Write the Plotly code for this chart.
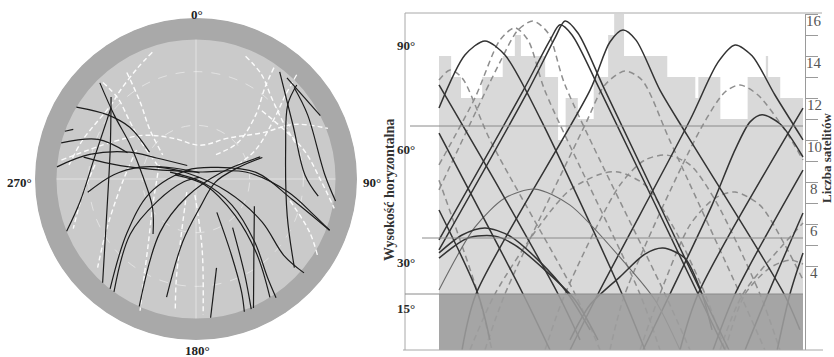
import plotly.graph_objects as go

# ---------------- sky plot data: azimuth [deg], elevation [deg] ----------------
sky_mask_elev = 12
sky_grid_zenith = [30, 60]
sky_dir_vals = [0, 90, 180, 270]
sky_dir_text = ["<b>0°</b>", "<b>90°</b>", "<b>180°</b>", "<b>270°</b>"]
sky_dir_label_px = [(197, 15), (372, 182), (197, 350), (19, 183)]

sky_solid_az = [
    [315, 308, 297, 274, 237, 218],
    [314, 290, 256, 222],
    [310, 282, 259, 248],
    [301, 306, 308, 300],
    [290, 292],
    [285, 292, 291],
    [275, 283, 292, 298, 327],
    [263, 273, 282, 296, 30],
    [218, 232, 253, 315, 60, 84, 102, 111],
    [204, 214, 207, 76, 71],
    [216, 230, 240, 257, 63],
    [194, 192, 172, 99, 75, 72],
    [281, 280, 352, 82, 98, 107, 111],
    [287, 304, 112, 123, 131, 131],
    [285, 117, 126, 137, 144, 146],
    [281, 124, 133, 141, 148],
    [148, 155, 158, 160],
    [143, 153, 157],
    [115, 144, 156],
    [167, 174],
    [38, 61, 88, 98],
    [47, 60, 88, 99],
    [42, 63],
    [47, 51, 71, 112, 132],
]
sky_solid_el = [
    [14, 32, 49, 60, 61, 51],
    [24, 39, 39, 12],
    [28, 32, 24, 12],
    [12, 29, 43, 60],
    [12, 16],
    [12, 31, 49],
    [12, 29, 50, 65, 81],
    [29, 44, 58, 76, 86],
    [12, 41, 63, 83, 77, 56, 35, 10],
    [12, 54, 79, 76, 52],
    [12, 42, 65, 83, 88],
    [22, 54, 74, 79, 66, 51],
    [26, 47, 86, 62, 38, 21, 10],
    [67, 84, 71, 46, 25, 10],
    [75, 86, 65, 42, 22, 10],
    [78, 84, 60, 36, 12],
    [68, 43, 22, 11],
    [56, 30, 11],
    [54, 35, 11],
    [39, 12],
    [14, 28, 29, 21],
    [15, 18, 18, 11],
    [14, 12],
    [13, 24, 37, 35, 16],
]
sky_dash_az = [
    [316, 316, 311, 304, 290],
    [341, 332, 319, 311, 289, 275],
    [278, 294, 310, 331, 7, 38, 55, 61, 69],
    [296, 268, 241, 228],
    [278, 262, 248],
    [291, 242, 215, 206, 203],
    [215, 194, 191, 189],
    [22, 32, 43, 59, 73],
    [35, 37, 43, 49, 38],
    [44, 47, 52, 64, 75],
    [44, 74, 91, 102],
    [184, 175, 177],
    [327, 324, 317, 306],
    [103, 115, 122],
]
sky_dash_el = [
    [15, 27, 41, 53, 67],
    [15, 20, 25, 27, 23, 18],
    [14, 39, 52, 64, 71, 61, 45, 27, 11],
    [53, 49, 33, 16],
    [33, 26, 16],
    [68, 63, 43, 22, 10],
    [81, 54, 32, 16],
    [16, 21, 28, 32, 30],
    [14, 26, 41, 59, 73],
    [9, 22, 34, 53, 70],
    [37, 28, 20, 11],
    [81, 51, 14],
    [19, 37, 52, 67],
    [36, 20, 10],
]

# ---------------- elevation vs time data: time [h], elevation [deg] ----------------
elev_solid_t = [
    [0, 1.71, 3.03, 4.35, 6.66, 12.07, 13.58],
    [0, 5.54, 7.32, 7.98, 8.77, 10.62, 17.08, 18.86],
    [0, 5.87, 7.65, 8.31, 9.16, 10.94, 17.34, 19.12],
    [1.52, 2.44, 9.96, 11.27, 12.13, 12.99, 14.57, 16.35, 22.75, 23.8],
    [8.64, 10.48, 16.55, 18.40, 19.52, 20.64, 22.15, 24],
    [13.45, 15.23, 18.0, 19.52, 20.51, 21.3, 22.48, 24],
    [0, 2.37, 4.35, 6.33, 8.64, 12.26, 14.24, 15.89],
    [0, 1.52, 3.03, 4.68, 6.66, 8.51, 9.96],
    [0, 1.91, 3.69, 5.01, 6.99, 8.97, 10.48],
    [8.64, 9.96, 11.93, 13.58, 14.77, 16.22, 17.34, 18.0],
    [0, 4.02, 7.85, 9.30],
    [0, 5.54, 7.32],
    [15.89, 17.08, 24],
    [18.07, 19.52, 24],
    [20.18, 21.69, 24],
    [22.3, 23.14, 24],
    [0, 2.57, 3.36],
]
elev_solid_el = [
    [64.8, 79.0, 82.8, 79.0, 62.1, 15.0, 0],
    [29.5, 69.4, 83.0, 87.1, 84.4, 69.6, 15.0, 0],
    [26.8, 69.4, 83.6, 88.1, 84.9, 69.6, 15.0, 0],
    [0, 15.0, 69.6, 82.5, 85.7, 83.0, 69.6, 57.6, 15.0, 5.4],
    [0, 15, 61.6, 77.1, 81.7, 78.8, 68.3, 56.3],
    [0, 15, 38.8, 53.6, 61.1, 63.0, 60.6, 51.7],
    [16.1, 32.9, 40.7, 43.1, 38.8, 23.3, 13.4, 0],
    [26.0, 30.8, 32.7, 30.5, 23.6, 15.0, 5.4],
    [24.6, 30.0, 30.5, 28.1, 21.4, 13.4, 2.7],
    [2.7, 12.1, 19.6, 25.7, 27.3, 24.6, 15.0, 5.4],
    [71.0, 42.9, 15.0, 2.7],
    [58.1, 15.0, 0],
    [0, 15, 64.8],
    [0, 15, 48.2],
    [0, 15, 36.7],
    [0, 15, 26.0],
    [37.5, 15, 2.7],
]
elev_solid_thin = [6]  # index of the thinner, lighter solid arc

elev_dash_t = [
    [0, 0.73, 1.52, 3.36, 8.97, 10.62],
    [0, 2.37, 4.02, 5.01, 5.87, 6.99, 13.25, 14.57],
    [0, 4.02, 5.21, 6.20, 7.19, 8.31, 14.90, 16.55],
    [3.03, 4.35, 9.63, 10.94, 12.26, 13.38, 15.23, 19.85, 21.49],
    [11.27, 12.26, 17.21, 18.86, 19.85, 21.03, 22.81, 24],
    [2.04, 3.69, 6.66, 8.64, 10.62, 11.80, 13.58, 15.56, 17.54, 18.86],
    [6.99, 8.31, 11.93, 13.58, 15.03, 16.55, 18.20, 21.16, 22.48],
    [13.25, 14.57, 16.55, 18.20, 19.52, 21.16, 22.81, 24],
    [18.86, 20.18, 21.82, 23.14, 24],
    [0, 2.57, 3.49],
    [18.53, 20.04, 24],
]
elev_dash_el = [
    [72.3, 75.0, 72.9, 56.3, 15.0, 0],
    [49.6, 67.5, 83.0, 86.3, 83.0, 69.4, 15.0, 0],
    [42.9, 77.1, 85.7, 88.1, 84.9, 71.0, 15.0, 0],
    [0, 15, 60.3, 71.0, 74.7, 72.3, 56.0, 15.0, 0],
    [0, 15, 58.9, 69.1, 71.0, 68.3, 58.9, 50.9],
    [0, 15, 33.5, 42.9, 47.1, 47.7, 44.2, 32.1, 15.0, 0],
    [0, 15, 44.2, 50.9, 52.2, 49.6, 40.2, 15, 0],
    [0, 15, 33.5, 40.7, 42.3, 38.8, 28.1, 18.8],
    [0, 15, 22.0, 24.1, 23.0],
    [45.5, 15, 0],
    [0, 15, 34.0],
]

count_t = [0, 0.8, 1.45, 2.85, 4.2, 5.0, 5.4, 7.0, 7.85, 8.35, 9.15, 10.2, 11.15,
           11.55, 12.2, 15.05, 16.9, 17.1, 18.55, 20.35, 21.55, 21.7, 22.5, 24]
count_n = [14, 13, 12, 13, 14, 15, 14, 13, 10, 12, 11, 13, 15,
           16, 14, 13, 12, 13, 11, 13, 14, 13, 12, 12]
count_tick_vals = list(range(4, 17))
count_label_vals = [4, 6, 8, 10, 12, 14, 16]

elev_mask = 15
elev_lines = [15, 30, 60]
elev_line_start_px = [405, 422, 410]
elev_label_text = ["<b>90°</b>", "<b>60°</b>", "<b>30°</b>", "<b>15°</b>"]
elev_label_px_y = [45, 150, 262, 308]
t_start, t_end = 0, 24

# ---------------- figure ----------------
W, H = 834, 357
SERIF = "Liberation Serif"
fig = go.Figure()

# sky plot background ring (below mask elevation)
fig.add_trace(go.Barpolar(
    r=[sky_mask_elev], base=[90 - sky_mask_elev], theta=[0], width=[360],
    marker=dict(color="#a9a9a9", line=dict(width=0)), subplot="polar",
    hoverinfo="skip", showlegend=False))

for az, el in zip(sky_dash_az, sky_dash_el):
    fig.add_trace(go.Scatterpolar(
        r=[90 - e for e in el], theta=az, mode="lines", subplot="polar",
        line=dict(color="rgba(255,255,255,0.92)", width=1.4, dash="5px,3px", shape="spline"),
        hoverinfo="skip", showlegend=False))
for az, el in zip(sky_solid_az, sky_solid_el):
    fig.add_trace(go.Scatterpolar(
        r=[90 - e for e in el], theta=az, mode="lines", subplot="polar",
        line=dict(color="#1c1c1c", width=1.2, shape="spline"),
        hoverinfo="skip", showlegend=False))

# satellite count histogram (count axis y)
fig.add_trace(go.Scatter(
    x=count_t, y=count_n, xaxis="x", yaxis="y", mode="lines",
    line=dict(width=0, shape="hv"), fill="tozeroy", fillcolor="#d9d9d9",
    hoverinfo="skip", showlegend=False))

# elevation tracks (elevation axis y2)
for tt, ee in zip(elev_dash_t, elev_dash_el):
    fig.add_trace(go.Scatter(
        x=tt, y=ee, xaxis="x", yaxis="y2", mode="lines",
        line=dict(color="#8e8e8e", width=1.5, dash="6px,4px", shape="spline", smoothing=0.8),
        hoverinfo="skip", showlegend=False))
for i, (tt, ee) in enumerate(zip(elev_solid_t, elev_solid_el)):
    thin = i in elev_solid_thin
    fig.add_trace(go.Scatter(
        x=tt, y=ee, xaxis="x", yaxis="y2", mode="lines",
        line=dict(color="#6a6a6a" if thin else "#333333", width=1.1 if thin else 1.5,
                  shape="spline", smoothing=0.8),
        hoverinfo="skip", showlegend=False))

px = lambda v: v / W
py = lambda v: (H - v) / H

shapes = [
    # low-elevation band
    dict(type="rect", xref="x", yref="y2", x0=t_start, x1=t_end, y0=0, y1=elev_mask,
         fillcolor="#9d9d9d", opacity=0.88, line=dict(width=0), layer="above"),
    # frame
    dict(type="line", xref="paper", yref="paper", x0=px(405), x1=px(822), y0=py(13), y1=py(13),
         line=dict(color="#a8a8a8", width=1), layer="above"),
    dict(type="line", xref="paper", yref="paper", x0=px(403), x1=px(823), y0=py(350), y1=py(350),
         line=dict(color="#a8a8a8", width=1), layer="above"),
    dict(type="line", xref="paper", yref="paper", x0=px(405), x1=px(405), y0=py(350), y1=py(13),
         line=dict(color="#a8a8a8", width=1), layer="above"),
]
for lev, x0 in zip(elev_lines, elev_line_start_px):
    shapes.append(dict(type="line", xref="paper", yref="y2", x0=px(x0), x1=px(803),
                       y0=lev, y1=lev, line=dict(color="#8a8a8a", width=1), layer="above"))

CM = dict(xanchor="center", yanchor="middle", showarrow=False)
annotations = []
for txt, (lx, ly) in zip(sky_dir_text, sky_dir_label_px):
    annotations.append(dict(x=px(lx), y=py(ly), xref="paper", yref="paper", text=txt,
                            font=dict(family=SERIF, size=13, color="#222222"), **CM))
for txt, yy in zip(elev_label_text, elev_label_px_y):
    annotations.append(dict(x=px(406), y=py(yy), xref="paper", yref="paper", text=txt,
                            font=dict(family=SERIF, size=13, color="#2a2a2a"), **CM))
for c in count_label_vals:
    annotations.append(dict(x=px(814), y=c, xref="paper", yref="y", yshift=-7, text=str(c),
                            font=dict(family=SERIF, size=15, color="#555555"), **CM))
annotations.append(dict(x=px(389), y=py(190), xref="paper", yref="paper", textangle=-90,
                        text="<b>Wysokość horyzontalna</b>",
                        font=dict(family=SERIF, size=14, color="#333333"), **CM))
annotations.append(dict(x=px(826), y=py(158), xref="paper", yref="paper", textangle=-90,
                        text="<b>Liczba satelitów</b>",
                        font=dict(family=SERIF, size=13, color="#333333"), **CM))

fig.update_layout(
    width=W, height=H, margin=dict(l=0, r=0, t=0, b=0),
    paper_bgcolor="white", plot_bgcolor="rgba(0,0,0,0)", showlegend=False,
    polar=dict(
        domain=dict(x=[35 / W, 357 / W], y=[(H - 340) / H, (H - 18) / H]),
        bgcolor="#cacaca",
        radialaxis=dict(range=[0, 90], tickvals=sky_grid_zenith, showticklabels=False, ticks="",
                        showline=False, gridcolor="rgba(255,255,255,0.45)", griddash="dash"),
        angularaxis=dict(rotation=90, direction="clockwise", tickvals=sky_dir_vals,
                         showticklabels=False, ticks="", showline=False,
                         gridcolor="rgba(255,255,255,0.45)"),
    ),
    xaxis=dict(domain=[405 / W, 805 / W], range=[-34 / 15.1667, 24 + 2 / 15.1667],
               visible=False, fixedrange=True),
    yaxis=dict(domain=[7 / H, 343 / H], range=[0, 16], side="right", anchor="x",
               showline=True, linecolor="#9a9a9a", linewidth=1, ticks="outside", ticklen=12,
               tickcolor="#9a9a9a", tickvals=count_tick_vals, showticklabels=False,
               showgrid=False, zeroline=False),
    yaxis2=dict(overlaying="y", range=[0, 90], visible=False, anchor="x"),
    shapes=shapes, annotations=annotations,
)

fig.write_html(
    "out.html",
    config={"displayModeBar": False},
    post_script="document.body.style.margin='0';document.body.style.overflow='hidden';",
)
